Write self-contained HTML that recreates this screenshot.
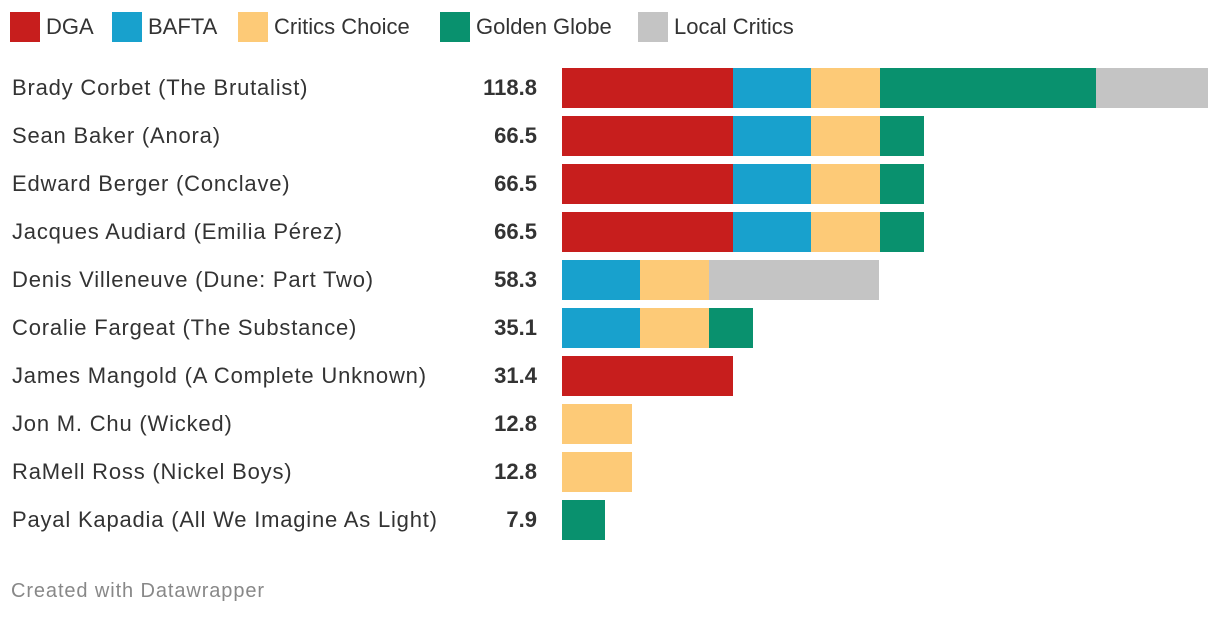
<!DOCTYPE html>
<html><head><meta charset="utf-8"><style>
body{margin:0;width:1220px;height:618px;background:#fff;font-family:"Liberation Sans",sans-serif;color:#333;overflow:hidden;position:relative}
.leg{position:absolute;top:12px;height:30px;display:flex;align-items:center;font-size:22px;color:#333}
.sw{width:30px;height:30px;margin-right:6px}
.lbl{position:absolute;left:12px;font-size:22px;color:#333;line-height:40px;white-space:nowrap;letter-spacing:0.8px}
.val{position:absolute;right:683px;font-size:22px;font-weight:bold;color:#333;line-height:40px}
.seg{position:absolute;height:40px}
.foot{position:absolute;left:11px;top:580px;font-size:20px;color:#888;letter-spacing:0.9px}
</style></head><body>
<div id="legend"></div>
<div id="chart"></div>
<div class="foot">Created with Datawrapper</div>
<script>
const names=["Brady Corbet (The Brutalist)","Sean Baker (Anora)","Edward Berger (Conclave)","Jacques Audiard (Emilia Pérez)","Denis Villeneuve (Dune: Part Two)","Coralie Fargeat (The Substance)","James Mangold (A Complete Unknown)","Jon M. Chu (Wicked)","RaMell Ross (Nickel Boys)","Payal Kapadia (All We Imagine As Light)"];
const totals=["118.8","66.5","66.5","66.5","58.3","35.1","31.4","12.8","12.8","7.9"];
const seriesNames=["DGA","BAFTA","Critics Choice","Golden Globe","Local Critics"];
const dga=[31.4,31.4,31.4,31.4,0,0,31.4,0,0,0];
const bafta=[14.3,14.3,14.3,14.3,14.3,14.3,0,0,0,0];
const critics=[12.8,12.8,12.8,12.8,12.8,12.8,0,12.8,12.8,0];
const globe=[39.7,8.0,8.0,8.0,0,8.0,0,0,0,7.9];
const local=[20.6,0,0,0,31.2,0,0,0,0,0];
const series=[dga,bafta,critics,globe,local];
const colors=["#c71e1d","#18a1cd","#fdca77","#09916e","#c4c4c4"];
const x0=562, pxPer=646/118.8;
const xs=v=>Math.round(x0+v*pxPer);
const rowY=i=>68+i*48;
const leg=document.getElementById('legend');
const legX=[10,112,238,440,638];
seriesNames.forEach((n,k)=>{
  const d=document.createElement('div');d.className='leg';d.style.left=legX[k]+'px';
  
  
  d.innerHTML='<div class="sw" style="background:'+colors[k]+'"></div>'+n;
  leg.appendChild(d);
});
const ch=document.getElementById('chart');
names.forEach((n,i)=>{
  const l=document.createElement('div');l.className='lbl';l.style.top=rowY(i)+'px';l.textContent=n;
  
  
  ch.appendChild(l);
  const v=document.createElement('div');v.className='val';v.style.top=rowY(i)+'px';v.textContent=totals[i];
  
  
  ch.appendChild(v);
  let acc=0;
  series.forEach((s,k)=>{
    if(s[i]>0){
      const b=document.createElement('div');b.className='seg';
      const a=xs(acc), e=xs(acc+s[i]);
      b.style.left=a+'px';b.style.width=(e-a)+'px';b.style.top=rowY(i)+'px';b.style.background=colors[k];
      
      
      ch.appendChild(b);
      acc+=s[i];
    }
  });
});
</script>
</body></html>
